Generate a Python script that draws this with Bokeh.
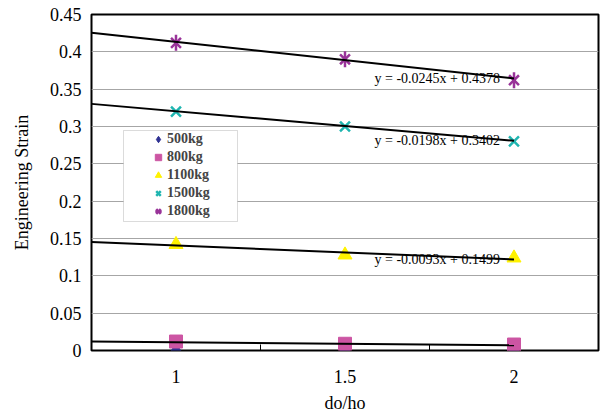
from bokeh.plotting import figure
from bokeh.models import Range1d, FixedTicker, CustomJSTickFormatter, Legend, LegendItem, BoxAnnotation
from bokeh.core.properties import value
from bokeh.embed import file_html
from bokeh.resources import INLINE

# ---- data ----
do_ho = [1, 1.5, 2]
s500 = [0.0, 0.0, 0.0]
s800 = [0.012, 0.009, 0.008]
s1100 = [0.142, 0.128, 0.124]
s1500 = [0.320, 0.300, 0.280]
s1800 = [0.412, 0.390, 0.362]
series_names = ["500kg", "800kg", "1100kg", "1500kg", "1800kg"]

# trend lines (Excel category index i = 1,2,3), forecast backward 0.5
trend_names = ["800kg", "1100kg", "1500kg", "1800kg"]
trend_slope = [-0.002, -0.0093, -0.0198, -0.0245]
trend_icept = [0.013, 0.1499, 0.3402, 0.4378]
trend_labels = ["", "y = -0.0093x + 0.1499", "y = -0.0198x + 0.3402", "y = -0.0245x + 0.4378"]

FONT = "Liberation Serif"

p = figure(width=602, height=415, output_backend="svg", toolbar_location=None,
           x_range=Range1d(0.75, 2.25), y_range=Range1d(0, 0.45),
           min_border_left=91, min_border_right=4, min_border_top=14, min_border_bottom=64)
p.background_fill_color = "white"
p.border_fill_color = "white"
p.outline_line_color = "black"
p.outline_line_width = 2

p.xgrid.grid_line_color = None
p.ygrid.grid_line_color = "#A6A6A6"
p.ygrid.grid_line_width = 1
p.yaxis.ticker = FixedTicker(ticks=[round(i * 0.05, 2) for i in range(10)])
p.yaxis.formatter = CustomJSTickFormatter(code="return Number(tick.toFixed(2)).toString();")
p.xaxis.ticker = FixedTicker(ticks=do_ho, minor_ticks=[1.25, 1.75])

p.axis.axis_line_color = None
p.axis.major_tick_line_color = None
p.axis.major_tick_out = 0
p.axis.major_tick_in = 0
p.axis.major_label_text_font = FONT
p.axis.major_label_text_font_size = "18px"
p.axis.major_label_text_color = "black"
p.axis.axis_label_text_font = FONT
p.axis.axis_label_text_font_size = "18px"
p.axis.axis_label_text_font_style = "normal"
p.axis.axis_label_text_color = "black"

p.xaxis.minor_tick_line_color = "black"
p.xaxis.minor_tick_in = 6
p.xaxis.minor_tick_out = 0
p.xaxis.minor_tick_line_width = 1
p.yaxis.minor_tick_line_color = None
p.xaxis.major_label_standoff = 19
p.xaxis.axis_label = "do/ho"
p.xaxis.axis_label_standoff = 7
p.yaxis.major_label_standoff = 10
p.yaxis.axis_label = "Engineering Strain"
p.yaxis.axis_label_standoff = 15

# legend frame (Excel-style box, wider than its entries)
p.add_layout(BoxAnnotation(left=123, right=237, top=130, bottom=221,
                           left_units="canvas", right_units="canvas",
                           top_units="canvas", bottom_units="canvas",
                           fill_color="white", fill_alpha=1,
                           line_color="#888888", line_width=1, level="annotation"))

# markers
r500 = p.scatter(do_ho, s500, marker="diamond", size=14, fill_color="#2E3192", line_color="#2E3192")
r800 = p.scatter(do_ho, s800, marker="square", size=13, fill_color="#CC55A3", line_color="#CC55A3")
r1100 = p.scatter(do_ho, s1100, marker="triangle", size=14, fill_color="#FFF200", line_color="#FFF200")
r1500 = p.scatter(do_ho, s1500, marker="x", size=14, line_color="#1FB5B0", line_width=2.5)
r1800a = p.scatter(do_ho, s1800, marker="x", size=14, line_color="#993399", line_width=2.5)
r1800b = p.scatter(do_ho, s1800, marker="dash", angle=1.5708, size=16, line_color="#993399", line_width=2.5)

# trend lines
x0, x1 = 0.75, 2.0
for m, b in zip(trend_slope, trend_icept):
    i0, i1 = 2 * x0 - 1, 2 * x1 - 1
    p.line([x0, x1], [m * i0 + b, m * i1 + b], line_color="black", line_width=2)

# equation labels
lab_x, lab_y, lab_t = [], [], []
for m, b, t in zip(trend_slope, trend_icept, trend_labels):
    if t:
        lab_x.append(x1)
        lab_y.append(m * 3 + b)
        lab_t.append(t)
p.text(x=lab_x, y=lab_y, text=lab_t, x_offset=-14, text_align="right", text_baseline="middle",
       text_font=value(FONT), text_font_size="14px", text_color="black")

legend = Legend(items=[
    LegendItem(label=series_names[0], renderers=[r500]),
    LegendItem(label=series_names[1], renderers=[r800]),
    LegendItem(label=series_names[2], renderers=[r1100]),
    LegendItem(label=series_names[3], renderers=[r1500]),
    LegendItem(label=series_names[4], renderers=[r1800a, r1800b]),
], location=(59, 130))
legend.margin = 0
legend.padding = 0
legend.spacing = 0
legend.label_text_font = FONT
legend.label_text_font_size = "14px"
legend.label_text_font_style = "bold"
legend.label_height = 18
legend.glyph_height = 18
legend.glyph_width = 16
legend.label_standoff = 1
legend.border_line_color = None
legend.background_fill_alpha = 0
p.add_layout(legend, "center")

open("out.html", "w").write(file_html(p, INLINE))
